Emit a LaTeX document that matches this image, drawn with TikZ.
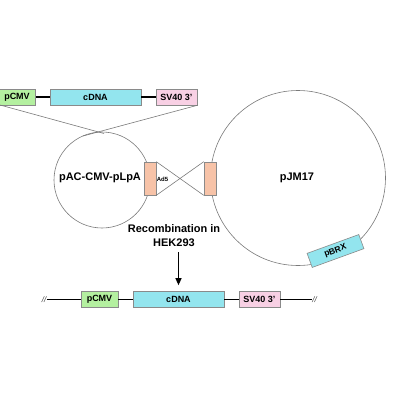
\documentclass[tikz,border=0pt]{standalone}
\usepackage{fontspec}
\setmainfont{Liberation Sans}
\usetikzlibrary{arrows.meta}
\definecolor{cmvgreen}{HTML}{B4F0A0}
\definecolor{cdnacyan}{HTML}{93E5EE}
\definecolor{svpink}{HTML}{F8D0E4}
\definecolor{adsalmon}{HTML}{F7C3A8}
\definecolor{bordergray}{HTML}{8A8A8A}
\definecolor{circgray}{HTML}{7A7A7A}
\tikzset{
  elem/.style={draw=bordergray, line width=0.6pt, inner sep=0pt, font=\fontsize{9}{10}\selectfont\bfseries},
  cmvbox/.style={elem, fill=cmvgreen, minimum width=37pt, minimum height=16pt},
  cdnabox/.style={elem, fill=cdnacyan, minimum width=91pt, minimum height=16pt},
  svbox/.style={elem, fill=svpink, minimum width=41pt, minimum height=16pt},
  adbox/.style={draw=bordergray, line width=0.6pt, fill=adsalmon, minimum width=12pt, minimum height=33pt, inner sep=0pt},
  plasmid/.style={circle, draw=circgray, line width=0.6pt, inner sep=0pt},
  rowline/.style={draw=black, line width=1.1pt},
  thinline/.style={draw=circgray, line width=0.6pt},
  lbl/.style={font=\fontsize{11}{14}\selectfont\bfseries, inner sep=0pt},
  cutmark/.style={font=\fontsize{8}{9}\selectfont\itshape, text=darkgray, inner sep=0.5pt}
}
\begin{document}
\begin{tikzpicture}[x=1pt,y=-1pt]
\useasboundingbox (0,0) rectangle (400,400);
% plasmids
\node[plasmid, minimum size=96pt] (pac) at (102,180) {};
\node[plasmid, minimum size=175pt] (pjm) at (298,178) {};
% top cassette
\node[cmvbox] (cmv1) at (17,97) {pCMV};
\node[cdnabox] (cdna1) at (95.5,97) {cDNA};
\node[svbox] (sv1) at (176.5,97) {SV40 3'};
\draw[rowline] (cmv1.east) -- (cdna1.west);
\draw[rowline] (cdna1.east) -- (sv1.west);
% lines from cassette to plasmid
\coordinate (pacA) at (104,133.5);
\coordinate (pacB) at (83,136);
\coordinate (cmvfoot) at (0,105);
\draw[thinline] (cmvfoot) -- (pacA);
\draw[thinline] (sv1.south east) -- (pacB);
% Ad5 boxes
\node[adbox] (ad5l) at (150,178.5) {};
\node[adbox] (ad5r) at (210,178.5) {};
\draw[thinline] (ad5l.north east) -- (ad5r.south west);
\draw[thinline] (ad5l.south east) -- (ad5r.north west);
\node[font=\fontsize{6}{7}\selectfont\bfseries, inner sep=0pt] (ad5t) at (162.5,179) {Ad5};
% labels
\node[lbl] (pact) at (100,178) {pAC-CMV-pLpA};
\node[lbl] (pjmt) at (297,178) {pJM17};
% pBRX
\node[elem, fill=cdnacyan, minimum width=55pt, minimum height=15pt, rotate=20, font=\fontsize{8.5}{9}\selectfont\bfseries] (pbrx) at (335.5,251) {pBRX};
% recombination
\node[lbl, align=center] (rec) at (174,235.5) {Recombination in\\HEK293};
% bottom cassette
\node[cmvbox] (cmv2) at (99.5,299.5) {pCMV};
\node[cdnabox] (cdna2) at (178.5,299.5) {cDNA};
\node[svbox] (sv2) at (259.5,299.5) {SV40 3'};
\node[cutmark] (cutl) at (44,299.5) {//};
\node[cutmark] (cutr) at (314.5,299.5) {//};
\draw[rowline] (cutl.east) -- (cmv2.west);
\draw[rowline] (cmv2.east) -- (cdna2.west);
\draw[rowline] (cdna2.east) -- (sv2.west);
\draw[rowline] (sv2.east) -- (cutr.west);
% arrow
\coordinate (arrowtop) at (178.5,252);
\draw[line width=1pt, -{Triangle[width=6pt,length=7pt]}, shorten >=6pt] (arrowtop) -- (cdna2.north);
\end{tikzpicture}
\end{document}
